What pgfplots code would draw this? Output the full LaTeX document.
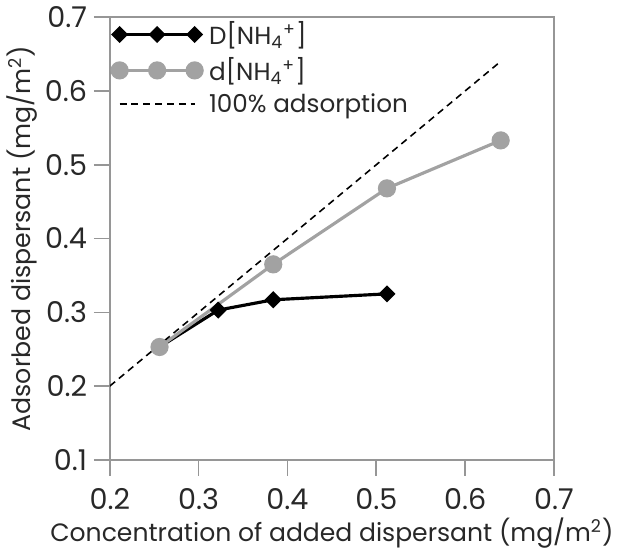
\documentclass[border=0pt]{standalone}
\usepackage{fontspec}
\setmainfont{Poppins}
\usepackage{pgfplots}
\pgfplotsset{compat=1.18}
\definecolor{axgray}{RGB}{150,150,150}
\definecolor{sergray}{RGB}{162,162,162}
\definecolor{txt}{RGB}{40,40,40}
\begin{document}
\begin{tikzpicture}
\begin{axis}[
  scale only axis,
  width=225pt, height=224.25pt,
  xmin=0.2, xmax=0.7, ymin=0.1, ymax=0.7,
  xtick={0.2,0.3,...,0.7}, ytick={0.1,0.2,...,0.7},
  /pgf/number format/assume math mode=true,
  /pgf/number format/fixed, /pgf/number format/precision=1,
  /pgf/number format/fixed zerofill,
  tick align=outside, major tick length=8pt,
  xtick pos=bottom, ytick pos=left,
  axis line style={axgray, line width=1pt},
  tick style={axgray, line width=0.8pt},
  every tick label/.append style={font=\fontsize{14.5}{16}\selectfont, text=txt},
  xticklabel style={yshift=-3pt},
  yticklabel style={xshift=0pt},
  xlabel={Concentration of added dispersant (mg/m\textsuperscript{2})},
  ylabel={Adsorbed dispersant (mg/m\textsuperscript{2})},
  xlabel style={font=\fontsize{12.7}{15}\selectfont, text=txt, yshift=3pt},
  ylabel style={font=\fontsize{12.8}{15}\selectfont, text=txt, yshift=-3pt},
  legend style={draw=none, fill=none, at={(0,1)}, anchor=north west,
    xshift=-2pt, yshift=2pt,
    font=\fontsize{12.5}{14}\selectfont, text=txt, row sep=1pt,
    /tikz/every odd column/.append style={column sep=1.5pt}},
  legend cell align=left,
  legend image code/.code={\draw[#1] plot coordinates {(0pt,0pt)(19pt,0pt)(38pt,0pt)};},
]
\addplot[black, line width=1.6pt, mark=diamond*, mark size=3.2pt, mark options={xscale=1.33}]
  coordinates {(0.256,0.253)(0.322,0.303)(0.384,0.317)(0.512,0.325)};
\addlegendentry{D[NH\textsubscript{4}\textsuperscript{+}]}
\addplot[sergray, line width=1.6pt, mark=*, mark size=3.8pt]
  coordinates {(0.256,0.253)(0.384,0.365)(0.512,0.468)(0.64,0.533)};
\addlegendentry{d[NH\textsubscript{4}\textsuperscript{+}]}
\addplot[black, line width=0.8pt, dash pattern=on 3.5pt off 2.5pt]
  coordinates {(0.2,0.2)(0.64,0.64)};
\addlegendentry{100\% adsorption}
\end{axis}
\end{tikzpicture}
\end{document}
